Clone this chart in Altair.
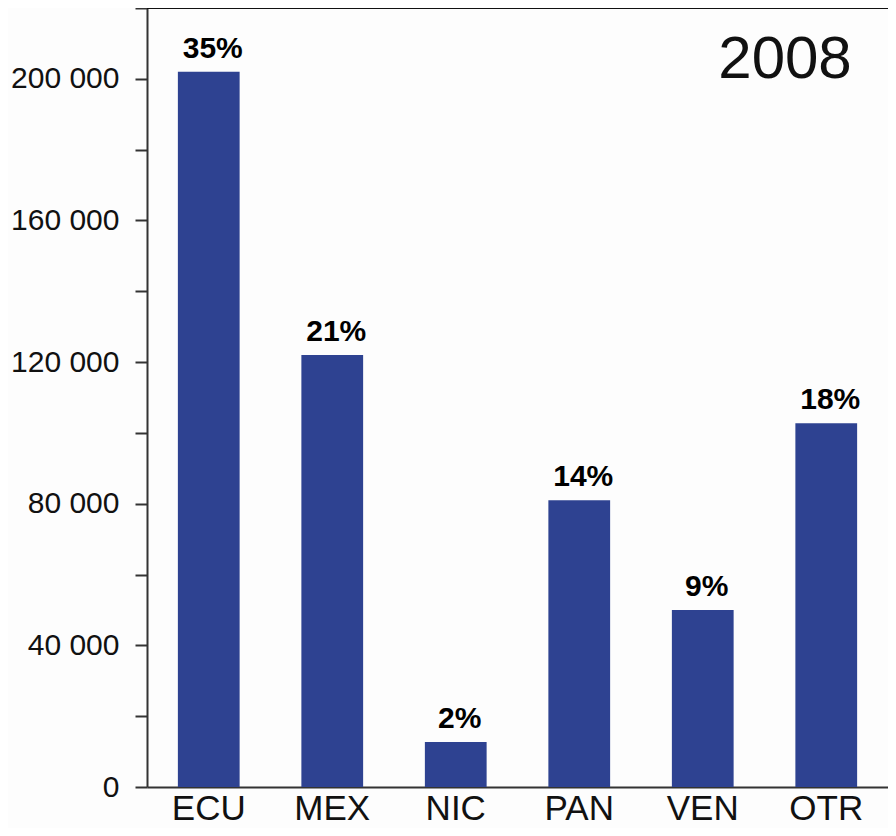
import altair as alt
import pandas as pd

countries = ["ECU", "MEX", "NIC", "PAN", "VEN", "OTR"]
values = [202000, 122000, 12700, 81000, 50000, 102700]
shares = ["35%", "21%", "2%", "14%", "9%", "18%"]
year_label = "2008"

df = pd.DataFrame({"pais": countries, "valor": values, "pct": shares})

W, H = 741, 779
FONT = "Liberation Sans"

x = alt.X("pais:N", sort=countries, scale=alt.Scale(paddingInner=0.5, paddingOuter=0.25),
          axis=alt.Axis(title=None, labelAngle=0, labelFontSize=35, labelFont=FONT,
                        labelColor="#111", labelPadding=4, ticks=False,
                        domainColor="#333", domainWidth=2))
y = alt.Y("valor:Q", scale=alt.Scale(domain=[0, 220000], nice=False),
          axis=alt.Axis(title=None, values=list(range(0, 220001, 20000)),
                        labelExpr="datum.value % 40000 == 0 ? replace(format(datum.value, ','), ',', ' ') : ''",
                        labelFontSize=30, labelFont=FONT, labelColor="#111",
                        labelPadding=16, tickSize=12, tickWidth=2, tickColor="#333",
                        domainColor="#333", domainWidth=2, grid=False))

bars = alt.Chart(df).mark_bar(color="#2E4291").encode(x=x, y=y)

labels = alt.Chart(df).mark_text(font=FONT, fontSize=30, fontWeight="bold", color="#000",
                                 baseline="alphabetic", dy=-14, dx=4).encode(
    x=alt.X("pais:N", sort=countries), y="valor:Q", text="pct:N")

top_line = alt.Chart(pd.DataFrame({"a": [0]})).mark_rule(color="#111", strokeWidth=2).encode(
    x=alt.value(0), x2=alt.value(W + 10), y=alt.value(0))

year = alt.Chart(pd.DataFrame({"t": [year_label]})).mark_text(
    font=FONT, fontSize=60, color="#111", align="center", baseline="alphabetic").encode(
    x=alt.value(638), y=alt.value(70), text="t:N")

chart = alt.layer(bars, labels, top_line, year).properties(
    width=W, height=H,
    autosize=alt.AutoSizeParams(type="none"),
    padding={"left": 139, "top": 0, "right": 0, "bottom": 41},
    background="#fdfdfd",
).configure_view(stroke=None)

chart.save("out.html", embed_options={"renderer": "svg", "actions": False})
